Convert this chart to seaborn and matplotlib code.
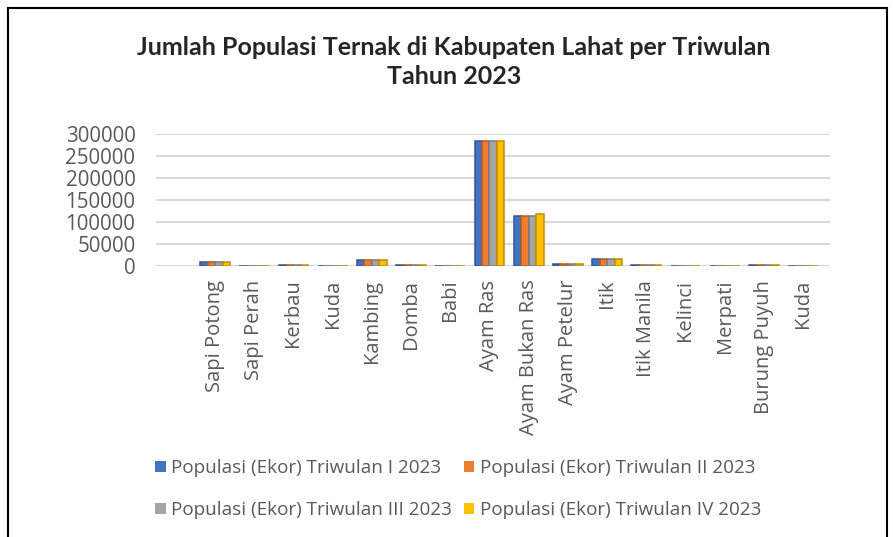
import pandas as pd
import matplotlib.pyplot as plt
import seaborn as sns
from matplotlib.patches import Rectangle
from matplotlib.colors import to_rgb

kategori = ['Sapi Potong', 'Sapi Perah', 'Kerbau', 'Kuda', 'Kambing', 'Domba', 'Babi',
            'Ayam Ras', 'Ayam Bukan Ras', 'Ayam Petelur', 'Itik', 'Itik Manila',
            'Kelinci', 'Merpati', 'Burung Puyuh', 'Kuda']
tw1 = [8000, 60, 1500, 300, 13500, 1200, 150, 284000, 113000, 4500, 15500, 2000, 400, 600, 1800, 300]
tw2 = [8100, 60, 1500, 300, 13600, 1200, 150, 284000, 113000, 4500, 15500, 2000, 400, 600, 1800, 300]
tw3 = [8200, 60, 1500, 300, 13700, 1200, 150, 284000, 113000, 4500, 15500, 2000, 400, 600, 1800, 300]
tw4 = [8300, 60, 1500, 300, 13800, 1200, 150, 284000, 118000, 4500, 15600, 2000, 400, 600, 1800, 300]
seri = ['Populasi (Ekor) Triwulan I 2023', 'Populasi (Ekor) Triwulan II 2023',
        'Populasi (Ekor) Triwulan III 2023', 'Populasi (Ekor) Triwulan IV 2023']
warna = ['#4472C4', '#ED7D31', '#A5A5A5', '#FFC000']

rows = []
for nama, vals in zip(seri, [tw1, tw2, tw3, tw4]):
    for i, v in enumerate(vals):
        rows.append({'idx': i, 'Triwulan': nama, 'Ekor': v})
df = pd.DataFrame(rows)

sns.set_style('white')
plt.rcParams['font.family'] = ['Open Sans', 'DejaVu Sans']

fig = plt.figure(figsize=(8.93, 5.37), dpi=100)
ax = fig.add_axes([0.175, 0.505, 0.755, 0.245])
sns.barplot(data=df, x='idx', y='Ekor', hue='Triwulan', palette=warna, width=0.76,
            saturation=1, ax=ax, edgecolor='none', legend=True)

# darker edge like the side of the excel 3d bars
for cont, c in zip(ax.containers, warna):
    gelap = tuple(x * 0.75 for x in to_rgb(c))
    for b in cont:
        b.set_edgecolor(gelap)
        b.set_linewidth(1.1)

ax.set_xlim(-1.5, 15.7)
ax.set_ylim(0, 300000)
ax.set_yticks(range(0, 300001, 50000))
ax.set_yticklabels([str(t) for t in range(0, 300001, 50000)], fontsize=14.8, color='#595959')
ax.set_xticks(range(len(kategori)))
ax.set_xticklabels(kategori, rotation=90, fontsize=14.5, color='#595959')
ax.yaxis.grid(True, color='#D9D9D9', linewidth=1.5)
ax.set_axisbelow(True)
for s in ax.spines.values():
    s.set_visible(False)
ax.tick_params(axis='y', length=0, pad=15)
ax.tick_params(axis='x', length=0, pad=10)
ax.set_xlabel('')
ax.set_ylabel('')

h, l = ax.get_legend_handles_labels()
ax.legend_.remove()
urut = [0, 2, 1, 3]
fig.legend([h[i] for i in urut], [l[i] for i in urut], loc='center',
           bbox_to_anchor=(0.513, 0.089), ncol=2, frameon=False,
           fontsize=13.6, labelcolor='#595959', handlelength=0.55, handleheight=0.55,
           handletextpad=0.3, columnspacing=0.6, labelspacing=1.3)

fig.text(0.508, 0.912, 'Jumlah Populasi Ternak di Kabupaten Lahat per Triwulan',
         ha='center', va='center', fontsize=18, fontweight='bold', family='Lato')
fig.text(0.508, 0.857, 'Tahun 2023', ha='center', va='center', fontsize=18,
         fontweight='bold', family='Lato')

fig.patches.append(Rectangle((0.009, -0.1), 0.984, 1.085, transform=fig.transFigure,
                             fill=False, edgecolor='black', linewidth=1.5))

fig.savefig('out.png', dpi=100)
